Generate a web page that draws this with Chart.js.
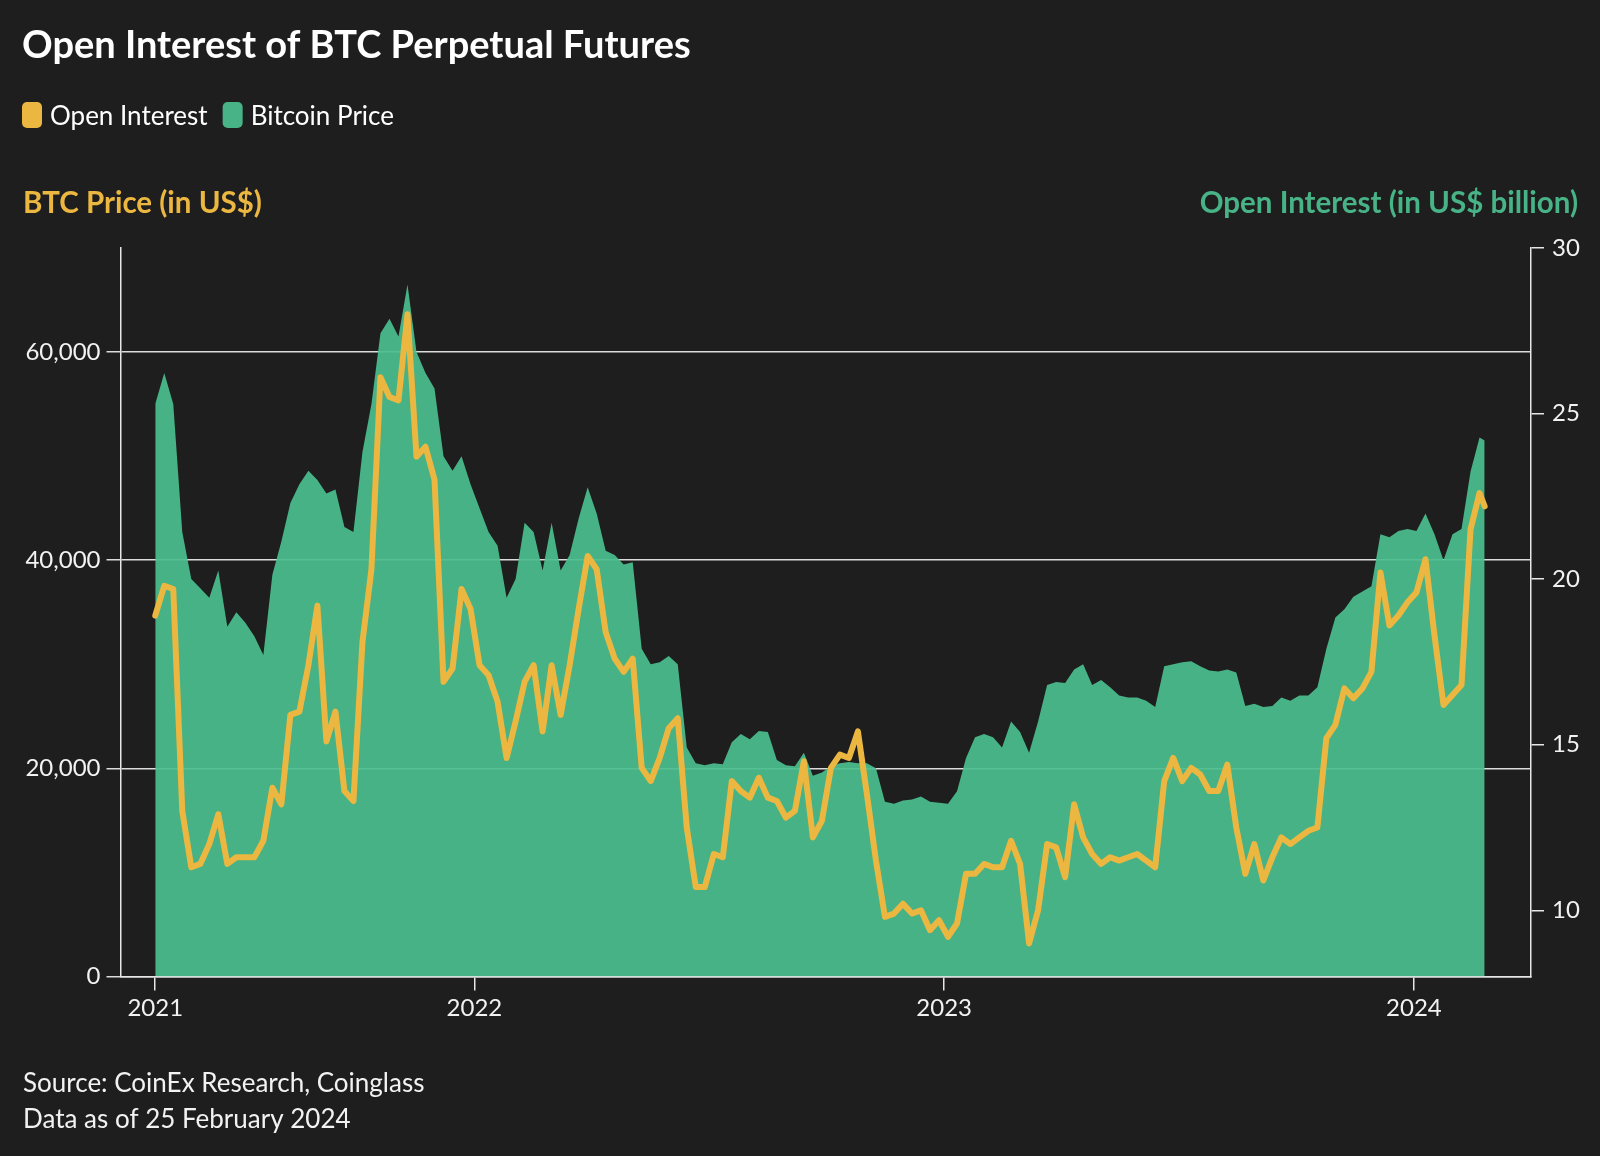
<!DOCTYPE html>
<html>
<head>
<meta charset="utf-8">
<title>Open Interest of BTC Perpetual Futures</title>
<script src="https://cdn.jsdelivr.net/npm/chart.js@4.4.1/dist/chart.umd.min.js"></script>
<style>
    html, body { margin: 0; padding: 0; background: #1e1e1e; }
    canvas { display: block; }
</style>
</head>
<body>
<canvas id="oiChart" width="1600" height="1156"></canvas>
<script>
// ===== DATA (weekly readings) =====
var dates = [
    '2021-04-28','2021-05-05','2021-05-12','2021-05-19','2021-05-26','2021-06-02','2021-06-09','2021-06-16','2021-06-23','2021-06-30',
    '2021-07-07','2021-07-14','2021-07-21','2021-07-28','2021-08-04','2021-08-11','2021-08-18','2021-08-25','2021-09-01','2021-09-08',
    '2021-09-15','2021-09-22','2021-09-29','2021-10-06','2021-10-13','2021-10-20','2021-10-27','2021-11-03','2021-11-10','2021-11-17',
    '2021-11-24','2021-12-01','2021-12-08','2021-12-15','2021-12-22','2021-12-29',
    '2022-01-05','2022-01-12','2022-01-19','2022-01-26','2022-02-02','2022-02-09','2022-02-16','2022-02-23','2022-03-02','2022-03-09',
    '2022-03-16','2022-03-23','2022-03-30','2022-04-06','2022-04-13','2022-04-20','2022-04-27','2022-05-04','2022-05-11','2022-05-18',
    '2022-05-25','2022-06-01','2022-06-08','2022-06-15','2022-06-22','2022-06-29','2022-07-06','2022-07-13','2022-07-20','2022-07-27',
    '2022-08-03','2022-08-10','2022-08-17','2022-08-24','2022-08-31','2022-09-07','2022-09-14','2022-09-21','2022-09-28','2022-10-05',
    '2022-10-12','2022-10-19','2022-10-26','2022-11-02','2022-11-09','2022-11-16','2022-11-23','2022-11-30','2022-12-07','2022-12-14',
    '2022-12-21','2022-12-28',
    '2023-01-04','2023-01-11','2023-01-18','2023-01-25','2023-02-01','2023-02-08','2023-02-15','2023-02-22','2023-03-01','2023-03-08',
    '2023-03-15','2023-03-22','2023-03-29','2023-04-05','2023-04-12','2023-04-19','2023-04-26','2023-05-03','2023-05-10','2023-05-17',
    '2023-05-24','2023-05-31','2023-06-07','2023-06-14','2023-06-21','2023-06-28','2023-07-05','2023-07-12','2023-07-19','2023-07-26',
    '2023-08-02','2023-08-09','2023-08-16','2023-08-23','2023-08-30','2023-09-06','2023-09-13','2023-09-20','2023-09-27','2023-10-04',
    '2023-10-11','2023-10-18','2023-10-25','2023-11-01','2023-11-08','2023-11-15','2023-11-22','2023-11-29','2023-12-06','2023-12-13',
    '2023-12-20','2023-12-27',
    '2024-01-03','2024-01-10','2024-01-17','2024-01-24','2024-01-31','2024-02-07','2024-02-14','2024-02-21','2024-02-25'
];

// BTC price, US$
var btcPrice = [
    55000, 58000, 55000, 42700, 38200, 37300, 36400, 39000, 33600, 35000,
    34000, 32700, 30900, 38600, 41800, 45500, 47300, 48600, 47700, 46400,
    46800, 43200, 42700, 50400, 55000, 61800, 63200, 61500, 66500, 60000,
    58000, 56500, 50000, 48600, 50000, 47300,
    45000, 42700, 41400, 36400, 38200, 43600, 42700, 39000, 43600, 39000,
    40500, 44000, 47000, 44500, 40900, 40500, 39600, 39800, 31500, 30000,
    30200, 30800, 30000, 22000, 20500, 20300, 20500, 20400, 22500, 23300,
    22800, 23600, 23500, 20800, 20300, 20200, 21500, 19300, 19600, 20200,
    20500, 20600, 20500, 20500, 20000, 16800, 16600, 16900, 17000, 17300,
    16800, 16700,
    16600, 17800, 21000, 23000, 23300, 23000, 22000, 24500, 23500, 21500,
    24500, 28000, 28300, 28200, 29500, 30000, 28000, 28500, 27800, 27000,
    26800, 26800, 26500, 25900, 29800, 30000, 30200, 30300, 29800, 29400,
    29300, 29500, 29200, 26000, 26200, 25900, 26000, 26800, 26500, 27000,
    27000, 27800, 31500, 34500, 35300, 36500, 37000, 37500, 42500, 42200,
    42800, 43000,
    42800, 44500, 42500, 40000, 42500, 43000, 48500, 51800, 51500
];

// Open interest, US$ billion
var openInterest = [
    18.9, 19.8, 19.7, 13.0, 11.3, 11.4, 12.0, 12.9, 11.4, 11.6,
    11.6, 11.6, 12.1, 13.7, 13.2, 15.9, 16.0, 17.4, 19.2, 15.1,
    16.0, 13.6, 13.3, 18.1, 20.3, 26.1, 25.5, 25.4, 28.0, 23.7,
    24.0, 23.0, 16.9, 17.3, 19.7, 19.1,
    17.4, 17.1, 16.3, 14.6, 15.7, 16.9, 17.4, 15.4, 17.4, 15.9,
    17.4, 19.1, 20.7, 20.3, 18.4, 17.6, 17.2, 17.6, 14.3, 13.9,
    14.6, 15.5, 15.8, 12.5, 10.7, 10.7, 11.7, 11.6, 13.9, 13.6,
    13.4, 14.0, 13.4, 13.3, 12.8, 13.0, 14.5, 12.2, 12.7, 14.3,
    14.7, 14.6, 15.4, 13.5, 11.5, 9.8, 9.9, 10.2, 9.9, 10.0,
    9.4, 9.7,
    9.2, 9.6, 11.1, 11.1, 11.4, 11.3, 11.3, 12.1, 11.4, 9.0,
    10.0, 12.0, 11.9, 11.0, 13.2, 12.2, 11.7, 11.4, 11.6, 11.5,
    11.6, 11.7, 11.5, 11.3, 13.9, 14.6, 13.9, 14.3, 14.1, 13.6,
    13.6, 14.4, 12.5, 11.1, 12.0, 10.9, 11.6, 12.2, 12.0, 12.2,
    12.4, 12.5, 15.2, 15.6, 16.7, 16.4, 16.7, 17.2, 20.2, 18.6,
    18.9, 19.3,
    19.6, 20.6, 18.3, 16.2, 16.5, 16.8, 21.5, 22.6, 22.2
];

var priceTicks = [0, 20000, 40000, 60000];
var oiTicks = [10, 15, 20, 25, 30];
var yearTickDates = ['2021-04-28', '2022-01-01', '2023-01-01', '2024-01-01'];
var yearTickLabels = ['2021', '2022', '2023', '2024'];

var titleText = 'Open Interest of BTC Perpetual Futures';
var leftAxisTitle = 'BTC Price (in US$)';
var rightAxisTitle = 'Open Interest (in US$ billion)';
var footerLines = ['Source: CoinEx Research, Coinglass', 'Data as of 25 February 2024'];

var YELLOW = '#ecb740';
var GREEN = '#47b386';

function toPoints(values) {
    return values.map(function (v, i) { return { x: Date.parse(dates[i]), y: v }; });
}

// title, legend, axis titles and source lines drawn on the same canvas
var pageText = {
    id: 'pageText',
    afterDraw: function (chart) {
        var ctx = chart.ctx;
        ctx.save();
        ctx.textBaseline = 'alphabetic';
        ctx.textAlign = 'left';

        ctx.fillStyle = '#ffffff';
        ctx.font = 'bold 38px Lato';
        ctx.fillText(titleText, 22, 58);

        ctx.font = '26px Lato';
        var x = 22;
        chart.data.datasets.forEach(function (ds) {
            ctx.fillStyle = ds.borderColor;
            ctx.beginPath();
            ctx.roundRect(x, 102, 20, 26, 5);
            ctx.fill();
            ctx.fillStyle = '#ffffff';
            ctx.fillText(ds.label, x + 28, 125);
            x += 28 + ctx.measureText(ds.label).width + 15;
        });

        ctx.font = 'bold 29.5px Lato';
        ctx.fillStyle = YELLOW;
        ctx.fillText(leftAxisTitle, 23, 213);
        ctx.fillStyle = GREEN;
        ctx.textAlign = 'right';
        ctx.fillText(rightAxisTitle, 1578, 213);

        ctx.textAlign = 'left';
        ctx.font = '26px Lato';
        ctx.fillStyle = '#f2f2f2';
        ctx.fillText(footerLines[0], 23, 1092);
        ctx.fillText(footerLines[1], 23, 1128);
        ctx.restore();
    }
};

Chart.defaults.font.family = 'Lato';
Chart.defaults.color = '#f2f2f2';

var ctx = document.getElementById('oiChart').getContext('2d');
new Chart(ctx, {
    type: 'line',
    data: {
        datasets: [{
            label: 'Open Interest',
            data: toPoints(openInterest),
            yAxisID: 'yOI',
            borderColor: YELLOW,
            borderWidth: 6,
            borderJoinStyle: 'round',
            borderCapStyle: 'round',
            pointRadius: 0,
            tension: 0,
            fill: false,
            order: 0
        }, {
            label: 'Bitcoin Price',
            data: toPoints(btcPrice),
            yAxisID: 'yPrice',
            borderColor: GREEN,
            backgroundColor: 'rgba(74, 189, 141, 0.93)',
            borderWidth: 0,
            pointRadius: 0,
            tension: 0,
            fill: 'origin',
            order: 1
        }]
    },
    options: {
        responsive: false,
        animation: false,
        devicePixelRatio: 1,
        layout: { padding: { top: 248, left: 0, right: 0, bottom: 0 } },
        plugins: {
            legend: { display: false },
            title: { display: false },
            tooltip: { enabled: false }
        },
        scales: {
            x: {
                type: 'linear',
                position: 'bottom',
                min: Date.parse('2021-04-01'),
                max: Date.parse('2024-04-01'),
                z: 1,
                afterBuildTicks: function (s) {
                    s.ticks = yearTickDates.map(function (d) { return { value: Date.parse(d) }; });
                },
                afterFit: function (s) { s.height = 179.5; },
                ticks: {
                    autoSkip: false,
                    maxRotation: 0,
                    padding: 3,
                    color: '#f2f2f2',
                    font: { size: 24 },
                    callback: function (v, i) { return yearTickLabels[i]; }
                },
                grid: { drawOnChartArea: false, drawTicks: true, tickLength: 14, color: '#e6e6e6', lineWidth: 1.5 },
                border: { display: true, color: '#e6e6e6', width: 1.5 }
            },
            yPrice: {
                type: 'linear',
                position: 'left',
                min: 0, max: 70000,
                afterBuildTicks: function (s) {
                    s.ticks = priceTicks.map(function (v) { return { value: v }; });
                },
                afterFit: function (s) { s.width = 120.5; },
                ticks: {
                    padding: 6,
                    color: '#f2f2f2',
                    font: { size: 24 },
                    callback: function (v) { return v.toLocaleString('en-US'); }
                },
                grid: { drawOnChartArea: true, drawTicks: true, tickLength: 14, color: '#dcdcdc', lineWidth: 1.5 },
                border: { display: true, color: '#e6e6e6', width: 1.5 }
            },
            yOI: {
                type: 'linear',
                position: 'right',
                min: 8, max: 30,
                afterBuildTicks: function (s) {
                    s.ticks = oiTicks.map(function (v) { return { value: v }; });
                },
                afterFit: function (s) { s.width = 69; },
                ticks: {
                    padding: 8,
                    color: '#f2f2f2',
                    font: { size: 24 }
                },
                grid: { drawOnChartArea: false, drawTicks: true, tickLength: 13, color: '#e6e6e6', lineWidth: 1.5 },
                border: { display: true, color: '#e6e6e6', width: 1.5 }
            }
        }
    },
    plugins: [pageText]
});
</script>
</body>
</html>
